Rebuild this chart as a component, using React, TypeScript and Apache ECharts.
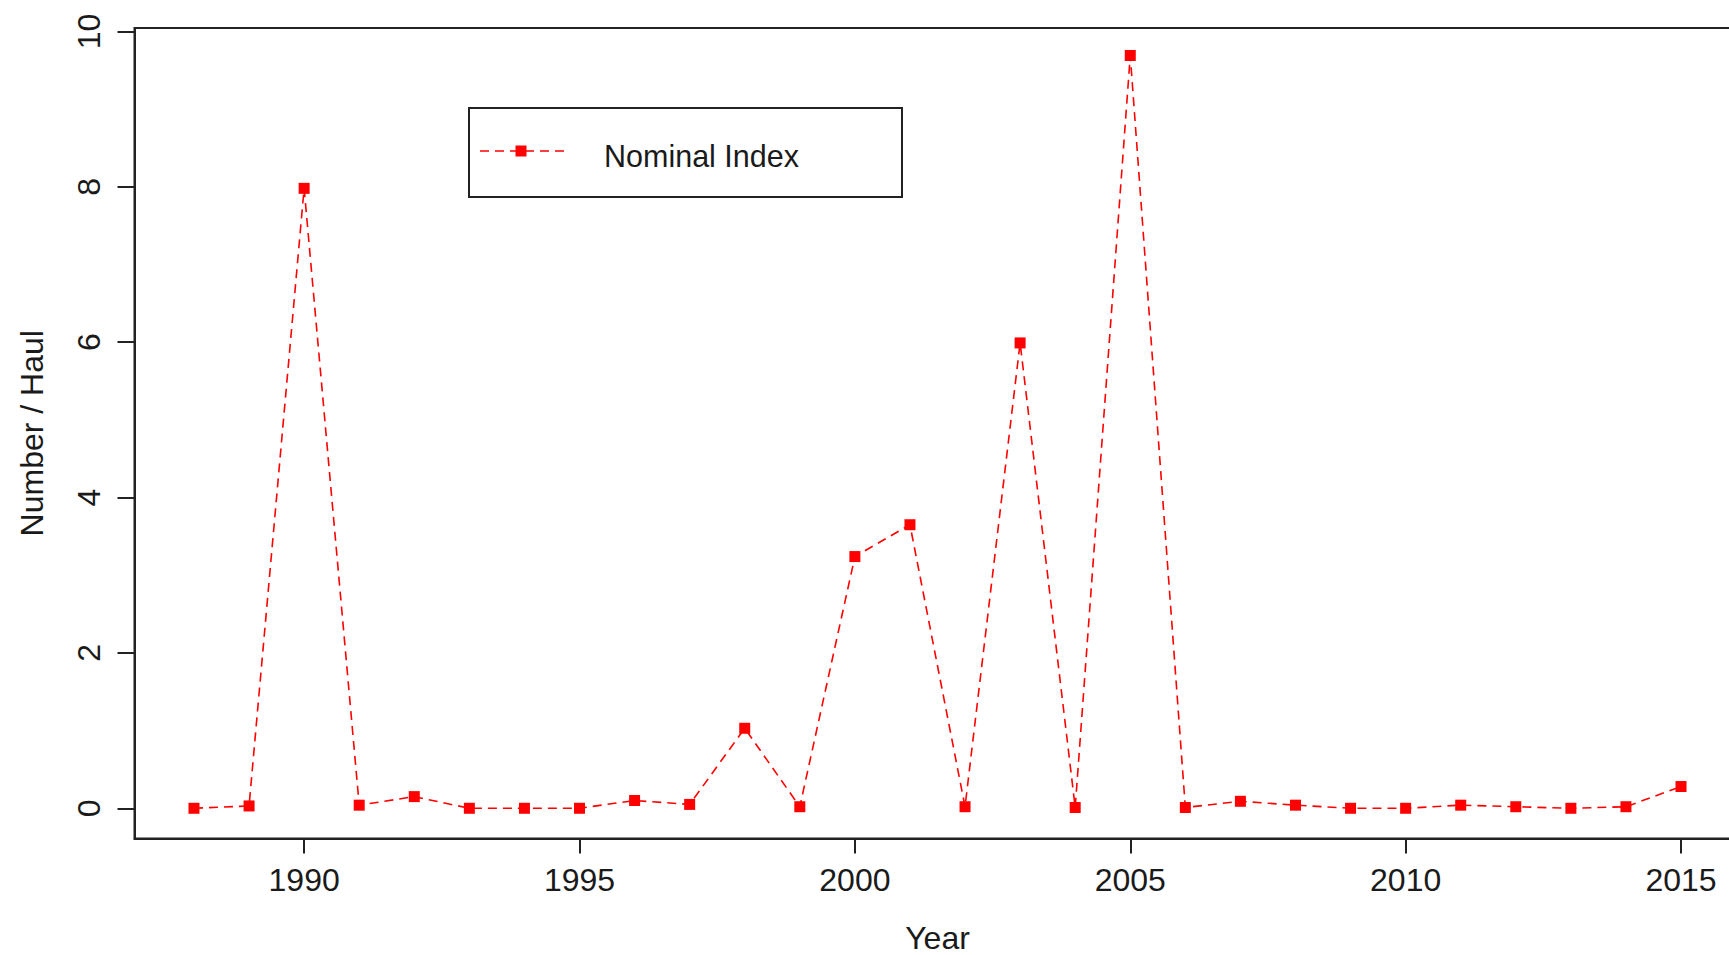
import React, { useEffect, useRef } from "react";
import * as echarts from "echarts";

const years = [1988, 1989, 1990, 1991, 1992, 1993, 1994, 1995, 1996, 1997, 1998, 1999, 2000, 2001, 2002, 2003, 2004, 2005, 2006, 2007, 2008, 2009, 2010, 2011, 2012, 2013, 2014, 2015];
const nominalIndex = [0.0, 0.03, 7.98, 0.04, 0.15, 0.0, 0.0, 0.0, 0.1, 0.05, 1.03, 0.02, 3.24, 3.65, 0.02, 5.99, 0.01, 9.69, 0.01, 0.09, 0.04, 0.0, 0.0, 0.04, 0.02, 0.0, 0.02, 0.28];
const xTicks = [1990, 1995, 2000, 2005, 2010, 2015];
const yTicks = [0, 2, 4, 6, 8, 10];
const seriesName = "Nominal Index";
const xTitle = "Year";
const yTitle = "Number / Haul";

const FONT = "'Liberation Sans', Arial, sans-serif";
const INK = "#1a1a1a";
const RED = "#ff0000";

export default function App() {
  const ref = useRef<HTMLDivElement>(null);
  useEffect(() => {
    document.body.style.margin = "0";
    const chart = echarts.init(ref.current!, null, { renderer: "svg" });
    chart.setOption({
      animation: false,
      backgroundColor: "#ffffff",
      grid: {
        left: 134.5,
        top: 28,
        width: 1606,
        height: 810.5,
        show: true,
        borderColor: "#222",
        borderWidth: 2,
        containLabel: false,
        outerBoundsMode: "none",
      },
      xAxis: {
        type: "value",
        min: 1986.92,
        max: 2016.08,
        name: xTitle,
        nameLocation: "middle",
        nameGap: 84,
        nameTextStyle: { fontFamily: FONT, fontSize: 32, color: INK, lineHeight: 30 },
        axisLine: { onZero: false, lineStyle: { color: "#222", width: 2 } },
        axisTick: { show: true, length: 15, customValues: xTicks, lineStyle: { color: "#222", width: 2 } },
        axisLabel: {
          customValues: xTicks,
          margin: 25,
          fontFamily: FONT,
          fontSize: 32,
          color: INK,
          formatter: (v: number) => String(v),
        },
        splitLine: { show: false },
      },
      yAxis: {
        type: "value",
        min: -0.389,
        max: 10.044,
        name: yTitle,
        nameLocation: "middle",
        nameRotate: 90,
        nameGap: 87,
        nameTextStyle: { fontFamily: FONT, fontSize: 32, color: INK },
        axisLine: { onZero: false, lineStyle: { color: "#222", width: 2 } },
        axisTick: { show: true, length: 17, customValues: yTicks, lineStyle: { color: "#222", width: 2 } },
        axisLabel: {
          customValues: yTicks,
          rotate: 90,
          margin: 30,
          fontFamily: FONT,
          fontSize: 32,
          color: INK,
          formatter: (v: number) => String(v),
        },
        splitLine: { show: false },
      },
      series: [
        {
          name: seriesName,
          type: "line",
          data: years.map((y, i) => [y, nominalIndex[i]]),
          symbol: "rect",
          symbolSize: 11,
          showSymbol: true,
          itemStyle: { color: RED },
          lineStyle: { color: RED, width: 1.6, type: [9, 6] },
          z: 3,
        },
      ],
      graphic: [
        {
          type: "group",
          children: [
            {
              type: "rect",
              shape: { x: 469, y: 108, width: 433, height: 89 },
              style: { fill: "#fff", stroke: "#222", lineWidth: 2 },
            },
            {
              type: "line",
              shape: { x1: 480, y1: 151, x2: 564, y2: 151 },
              style: { stroke: RED, lineWidth: 1.6, lineDash: [9, 6] },
            },
            {
              type: "rect",
              shape: { x: 515.5, y: 145.5, width: 11, height: 11 },
              style: { fill: RED },
            },
            {
              type: "text",
              x: 604,
              y: 155.5,
              style: {
                text: seriesName,
                fontFamily: FONT,
                fontSize: 30.5,
                fill: INK,
                verticalAlign: "middle",
                align: "left",
              },
            },
          ],
        },
      ],
    });
    return () => chart.dispose();
  }, []);
  return <div ref={ref} style={{ width: 1729, height: 955, position: "absolute", left: 0, top: 0 }} />;
}
